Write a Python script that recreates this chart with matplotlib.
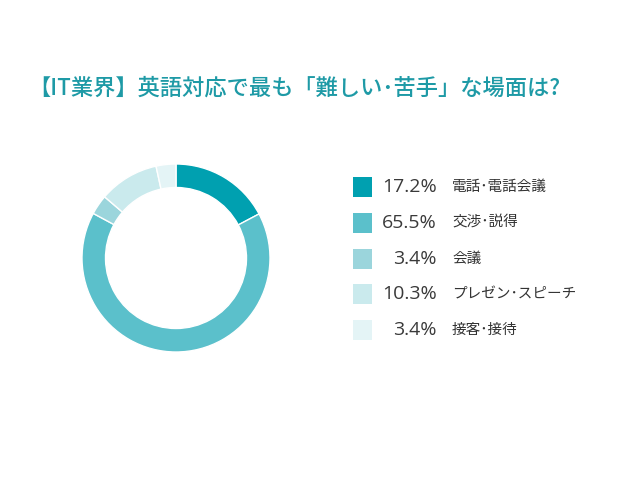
import matplotlib
matplotlib.use("Agg")
import matplotlib.pyplot as plt
from matplotlib.patches import Rectangle

plt.rcParams['font.family'] = ['Noto Sans CJK JP', 'DejaVu Sans']

title = "【IT業界】英語対応で最も「難しい･苦手」な場面は?"
categories = ["電話･電話会議", "交渉･説得", "会議", "プレゼン･スピーチ", "接客･接待"]
values = [17.2, 65.5, 3.4, 10.3, 3.4]
colors = ["#00A0B0", "#5BC0CB", "#9BD5DC", "#CAEAED", "#E4F4F6"]

W, H = 640, 480
fig = plt.figure(figsize=(6.4, 4.8), dpi=100)
fig.patch.set_facecolor("white")

cx, cy, R = 176, 258, 94
ax = fig.add_axes([(cx - R) / W, (H - cy - R) / H, 2 * R / W, 2 * R / H])
ax.pie(values, colors=colors, startangle=90, counterclock=False, radius=1,
       wedgeprops=dict(width=0.25, edgecolor="white", linewidth=1))
ax.set_xlim(-1, 1)
ax.set_ylim(-1, 1)
ax.set_aspect("equal")
ax.axis("off")

fig.text(28 / W, 1 - 88 / H, title, fontsize=16, color="#1E9AA6",
         ha="left", va="center", fontweight="medium")

y0, dy = 187, 35.8
for i, (cat, v, c) in enumerate(zip(categories, values, colors)):
    yc = y0 + i * dy
    fig.patches.append(Rectangle((353 / W, 1 - (yc + 10) / H), 19 / W, 20 / H,
                                 transform=fig.transFigure, facecolor=c,
                                 edgecolor="none"))
    fig.text(437 / W, 1 - yc / H, f"{v:.1f}%", fontsize=14, color="#3a3a3a",
             ha="right", va="center", family=["Open Sans", "DejaVu Sans"])
    fig.text(452 / W, 1 - yc / H, cat, fontsize=10.5, color="#333333",
             ha="left", va="center")

fig.savefig("out.png", dpi=100, facecolor="white")
